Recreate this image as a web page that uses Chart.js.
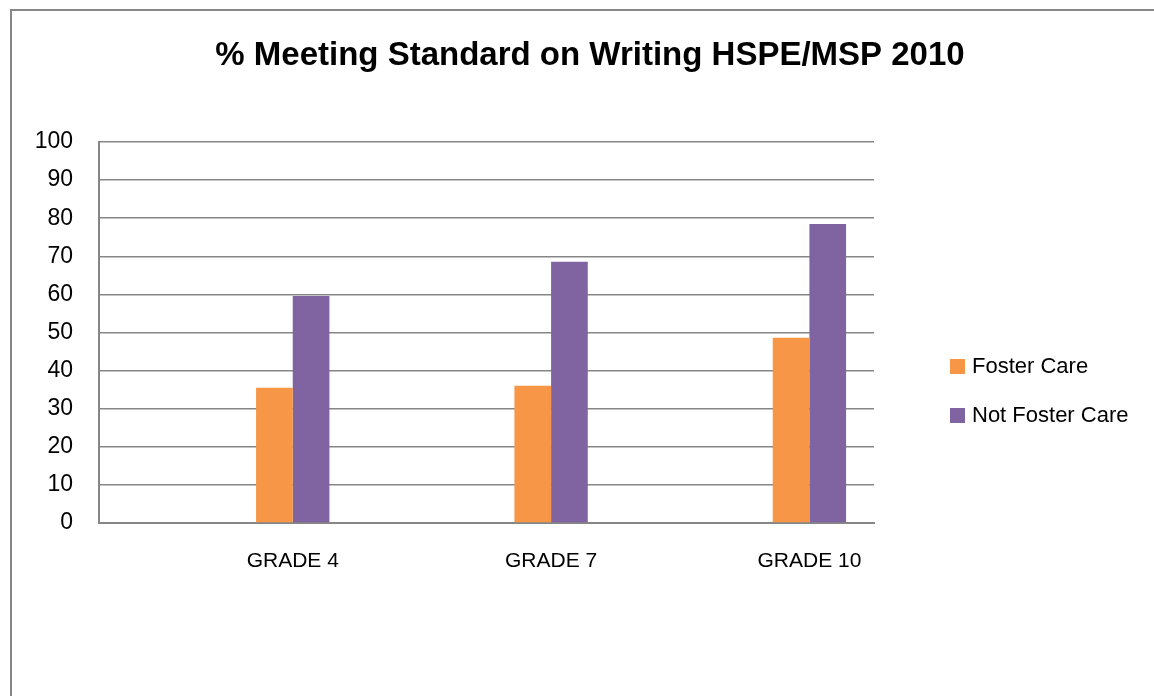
<!DOCTYPE html>
<html>
<head>
<meta charset="utf-8">
<script src="https://cdn.jsdelivr.net/npm/chart.js@4"></script>
<style>
    html, body { margin: 0; padding: 0; background: white; overflow: hidden; }
    #frame {
        position: absolute;
        left: 10px;
        top: 9px;
        width: 1300px;
        height: 800px;
        border-left: 2px solid #868686;
        border-top: 2px solid #868686;
    }
    #wrap { position: absolute; left: 0; top: 0; width: 1154px; height: 696px; }
</style>
</head>
<body>
<div id="frame"></div>
<div id="wrap"><canvas id="myBarChart" width="1154" height="696"></canvas></div>
<script>
const grades = ['GRADE 4', 'GRADE 7', 'GRADE 10'];
const fosterCare = [35.5, 36.0, 48.6];
const notFosterCare = [59.6, 68.6, 78.5];
const yTicks = [0, 10, 20, 30, 40, 50, 60, 70, 80, 90, 100];
const chartTitle = '% Meeting Standard on Writing HSPE/MSP 2010';

const fontFamily = "'Liberation Sans', Arial, sans-serif";

// the groups sit right of the slot centre in the original, so x is a linear axis
const toPoints = (arr) => arr.map((v, i) => ({ x: i, y: v }));

// title and legend drawn by hand
const decorations = {
    id: 'decorations',
    afterDraw(chart) {
        const c = chart.ctx;
        c.save();
        c.fillStyle = '#000';
        c.font = 'bold 33px ' + fontFamily;
        c.textAlign = 'center';
        c.textBaseline = 'middle';
        c.fillText(chartTitle, 590, 56);

        const left = chart.chartArea.right + 76;
        const tops = [359, 408];
        c.font = '22px ' + fontFamily;
        c.textAlign = 'left';
        chart.data.datasets.forEach((ds, i) => {
            c.fillStyle = ds.backgroundColor;
            c.fillRect(left, tops[i], 15, 15);
            c.fillStyle = '#000';
            c.fillText(ds.label, left + 22, tops[i] + 8);
        });
        c.restore();
    }
};

const ctx = document.getElementById('myBarChart').getContext('2d');
new Chart(ctx, {
    type: 'bar',
    data: {
        datasets: [
            {
                label: 'Foster Care',
                data: toPoints(fosterCare),
                backgroundColor: '#F79646'
            },
            {
                label: 'Not Foster Care',
                data: toPoints(notFosterCare),
                backgroundColor: '#8064A2'
            }
        ]
    },
    options: {
        responsive: false,
        animation: false,
        layout: {
            padding: { left: 0, right: 280, top: 142, bottom: 0 }
        },
        datasets: {
            bar: {
                categoryPercentage: 0.284,
                barPercentage: 1
            }
        },
        scales: {
            x: {
                type: 'linear',
                offset: false,
                min: -0.75,
                max: 2.25,
                afterBuildTicks: (s) => { s.ticks = grades.map((g, i) => ({ value: i })); },
                grid: { display: false, drawTicks: false },
                border: { display: true, color: '#868686', width: 2 },
                ticks: {
                    color: '#000',
                    padding: 26,
                    font: { family: fontFamily, size: 21 },
                    callback: (v) => grades[v]
                },
                afterFit: (s) => { s.height = 173; }
            },
            y: {
                min: 0,
                max: 100,
                afterBuildTicks: (s) => { s.ticks = yTicks.map(v => ({ value: v })); },
                grid: { color: '#868686', lineWidth: 1.5, drawTicks: false },
                border: { display: true, color: '#868686', width: 2 },
                ticks: {
                    color: '#000',
                    padding: 26,
                    font: { family: fontFamily, size: 23 }
                },
                afterFit: (s) => { s.width = 99; }
            }
        },
        plugins: {
            legend: { display: false },
            tooltip: { enabled: false },
            title: { display: false }
        }
    },
    plugins: [decorations]
});
</script>
</body>
</html>
